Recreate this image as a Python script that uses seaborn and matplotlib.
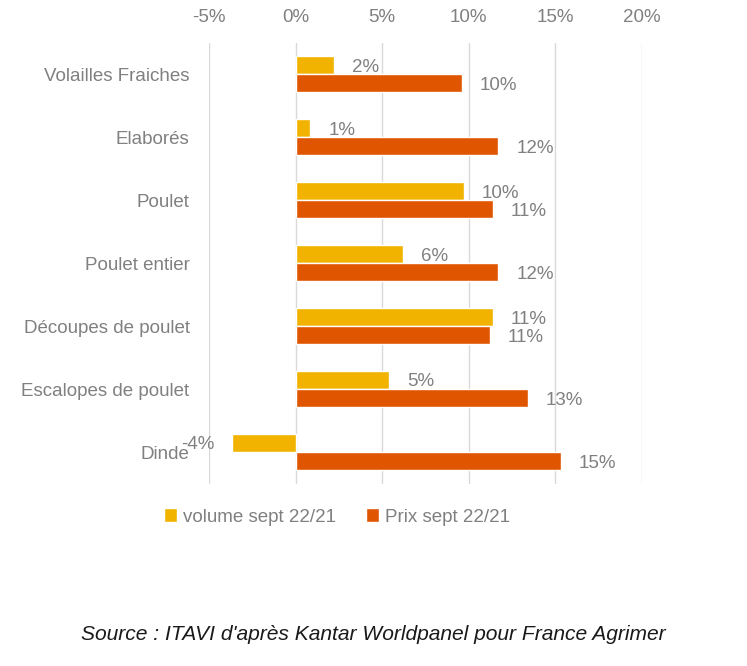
import pandas as pd
import matplotlib.pyplot as plt
import seaborn as sns

sns.set_theme(style="white")
plt.rcParams["font.family"] = ["Liberation Sans", "DejaVu Sans"]

categories = [
    "Volailles Fraiches",
    "Elaborés",
    "Poulet",
    "Poulet entier",
    "Découpes de poulet",
    "Escalopes de poulet",
    "Dinde",
]
volume = [2.2, 0.85, 9.7, 6.2, 11.4, 5.4, -3.66]
prix = [9.6, 11.7, 11.4, 11.7, 11.2, 13.4, 15.3]
series = ["volume sept 22/21", "Prix sept 22/21"]
x_ticks = [-5, 0, 5, 10, 15, 20]

COLORS = ["#F2B200", "#E05500"]
GREY = "#808080"
FS = 13.5

df = pd.DataFrame(
    {
        "categorie": categories * 2,
        "valeur": volume + prix,
        "serie": [series[0]] * len(categories) + [series[1]] * len(categories),
    }
)

fig = plt.figure(figsize=(7.47, 6.66), dpi=100)
ax = fig.add_axes([0.2798, 0.274, 0.5796, 0.662])

sns.barplot(
    data=df,
    x="valeur",
    y="categorie",
    hue="serie",
    order=categories,
    hue_order=series,
    palette=COLORS,
    orient="h",
    width=0.58,
    gap=0,
    saturation=1,
    ax=ax,
)

# value labels, offset from bar end
for cont in ax.containers:
    for bar in cont:
        val = bar.get_width()
        end = bar.get_x() + val
        yc = bar.get_y() + bar.get_height() / 2
        ax.annotate(
            f"{val:.0f}%",
            xy=(end, yc),
            xytext=(13 if val >= 0 else -13, -1.5),
            textcoords="offset points",
            ha="left" if val >= 0 else "right",
            va="center",
            color=GREY,
            fontsize=FS,
        )

ax.set_xlim(-5, 20)
ax.set_xticks(x_ticks)
ax.set_xticklabels([f"{t}%" for t in x_ticks])
ax.xaxis.tick_top()
ax.tick_params(axis="both", length=0, colors=GREY, labelsize=FS)
ax.tick_params(axis="x", pad=12)
ax.tick_params(axis="y", pad=14)
ax.grid(axis="x", color="#D9D9D9", linewidth=1)
ax.set_axisbelow(True)
for s in ax.spines.values():
    s.set_visible(False)
ax.set_xlabel("")
ax.set_ylabel("")

handles, labels = ax.get_legend_handles_labels()
ax.legend_.remove()
leg = fig.legend(
    handles,
    labels,
    loc="center",
    bbox_to_anchor=(337 / 747, 1 - 517 / 666),
    ncol=2,
    frameon=False,
    fontsize=FS,
    handlelength=0.7,
    handleheight=0.7,
    handletextpad=0.3,
    columnspacing=1.6,
)
for t in leg.get_texts():
    t.set_color(GREY)

fig.text(
    0.5,
    1 - 635 / 666,
    "Source : ITAVI d'après Kantar Worldpanel pour France Agrimer",
    ha="center",
    va="center",
    style="italic",
    fontsize=15.1,
    color="#1a1a1a",
)

fig.savefig("out.png", dpi=100)
